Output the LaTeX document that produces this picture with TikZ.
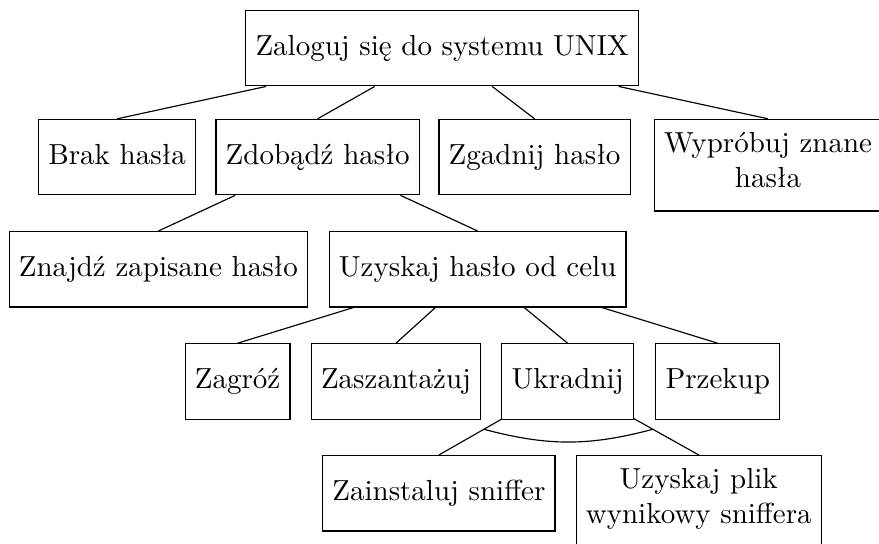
\documentclass[tikz,border=0pt]{standalone}
\usepackage{fontspec}
\usetikzlibrary{calc}

\begin{document}
\begin{tikzpicture}[box/.style = {draw, anchor = north, minimum height = 26pt, align = center,
                      execute at begin node = \strut, execute at end node = \strut},
                    tallbox/.style = {box, inner ysep = 4.5pt}]
        \useasboundingbox (0,0) rectangle (10.655,-6.594);

        \node[box] (root) at (5.36,-0.12) {Zaloguj się do systemu UNIX};

        \node[box] (brak) at (1.42,-1.44) {Brak hasła};
        \node[box] (zdobadz) at (3.85,-1.44) {Zdobądź hasło};
        \node[box] (zgadnij) at (6.48,-1.44) {Zgadnij hasło};
        \node[tallbox] (wyprobuj) at (9.31,-1.44) {Wypróbuj znane\\hasła};

        \node[box] (znajdz) at (1.92,-2.80) {Znajdź zapisane hasło};
        \node[box] (uzyskaj) at (5.79,-2.80) {Uzyskaj hasło od celu};

        \node[box] (zagroz) at (2.88,-4.16) {Zagróź};
        \node[box] (szantaz) at (4.80,-4.16) {Zaszantażuj};
        \node[box] (ukradnij) at (6.88,-4.16) {Ukradnij};
        \node[box] (przekup) at (8.70,-4.16) {Przekup};

        \node[box] (sniffer) at (5.32,-5.515) {Zainstaluj sniffer};
        \node[tallbox] (plik) at (8.47,-5.515) {Uzyskaj plik\\wynikowy sniffera};

        \foreach \x in {brak, zdobadz, zgadnij, wyprobuj} {
          \draw (root) -- (\x.north);
        };
        \foreach \x in {znajdz, uzyskaj} {
          \draw (zdobadz) -- (\x.north);
        };
        \foreach \x in {zagroz, szantaz, ukradnij, przekup} {
          \draw (uzyskaj) -- (\x.north);
        };
        \foreach \x in {sniffer, plik} {
          \draw (ukradnij) -- (\x.north);
        };

        \coordinate (andL) at ($(ukradnij)!0.65!(sniffer.north)$);
        \coordinate (andR) at ($(ukradnij)!0.65!(plik.north)$);
        \draw (andL) to[bend right = 15] (andR);
      \end{tikzpicture}
\end{document}
